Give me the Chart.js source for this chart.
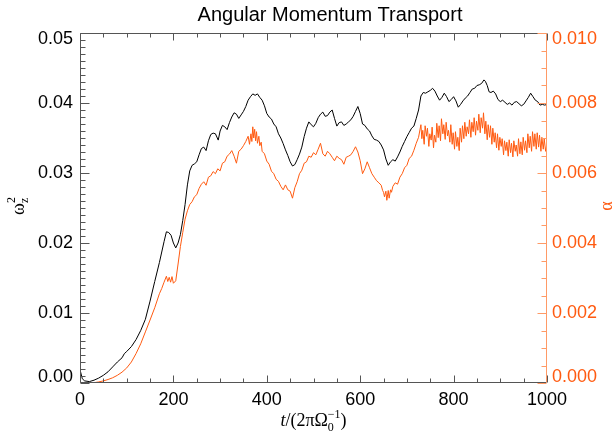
<!DOCTYPE html>
<html>
<head>
<meta charset="utf-8">
<script src="https://cdn.jsdelivr.net/npm/chart.js"></script>
<style>
  html, body { margin: 0; padding: 0; background: #fff; }
  #wrap { width: 613px; height: 437px; }
</style>
</head>
<body>
<div id="wrap"><canvas id="amt"></canvas></div>
<script>
// values
const titleText = "Angular Momentum Transport";

const xTicks = [0, 200, 400, 600, 800, 1000];
const leftTicks = [0, 0.01, 0.02, 0.03, 0.04, 0.05];
const rightTicks = [0, 0.002, 0.004, 0.006, 0.008, 0.010];

const tBlack = [0, 5, 10, 20, 30, 40, 50, 60, 70, 80, 90, 95, 100, 110, 120, 130, 140, 150, 160, 170,
  180, 185, 190, 195, 200, 205, 210, 215, 220, 225, 230, 235, 240, 245, 250, 255, 260, 265, 270, 275,
  280, 285, 290, 296, 300, 305, 310, 315, 320, 325, 330, 335, 340, 345, 350, 355, 360, 365, 370, 375,
  380, 385, 390, 395, 400, 405, 410, 415, 420, 425, 430, 435, 440, 445, 450, 455, 460, 465, 470, 475,
  480, 485, 490, 495, 500, 505, 510, 515, 520, 525, 530, 535, 540, 545, 550, 555, 560, 565, 570, 575,
  580, 585, 590, 595, 600, 605, 610, 615, 620, 625, 630, 635, 640, 645, 650, 655, 660, 665, 670, 675,
  680, 685, 690, 695, 700, 705, 710, 715, 720, 725, 730, 735, 740, 745, 750, 755, 760, 765, 770, 775,
  780, 785, 790, 795, 800, 805, 810, 815, 820, 825, 830, 835, 840, 845, 850, 855, 860, 865, 868, 872,
  876, 880, 885, 890, 895, 900, 905, 910, 915, 920, 925, 930, 935, 940, 945, 950, 955, 960, 965, 970,
  975, 980, 985, 990, 995, 1000];
const omega = [0.0019, 0.0006, 0.0003, 0.0002, 0.0004, 0.0007, 0.0011, 0.0016, 0.0023, 0.0030, 0.0036, 0.0042, 0.0045, 0.0052, 0.0062, 0.0075, 0.0091, 0.0117, 0.0145, 0.0172,
  0.0202, 0.0216, 0.0215, 0.0211, 0.0200, 0.0193, 0.0200, 0.0212, 0.0232, 0.0255, 0.0283, 0.0303, 0.0311, 0.0313, 0.0316, 0.0326, 0.0335, 0.0337, 0.0332, 0.0346,
  0.0355, 0.0357, 0.0356, 0.0347, 0.0360, 0.0368, 0.0366, 0.0362, 0.0372, 0.0380, 0.0386, 0.0384, 0.0378, 0.0383, 0.0388, 0.0395, 0.0404, 0.0409, 0.0413, 0.0411,
  0.0413, 0.0408, 0.0404, 0.0396, 0.0385, 0.0380, 0.0377, 0.0370, 0.0366, 0.0356, 0.0350, 0.0342, 0.0333, 0.0325, 0.0316, 0.0310, 0.0312, 0.0319, 0.0327, 0.0337,
  0.0352, 0.0364, 0.0373, 0.0369, 0.0366, 0.0371, 0.0379, 0.0384, 0.0387, 0.0381, 0.0382, 0.0387, 0.0390, 0.0378, 0.0367, 0.0372, 0.0373, 0.0368, 0.0370, 0.0373,
  0.0376, 0.0381, 0.0388, 0.0395, 0.0385, 0.0370, 0.0368, 0.0363, 0.0360, 0.0353, 0.0348, 0.0347, 0.0345, 0.0340, 0.0333, 0.0320, 0.0311, 0.0316, 0.0319, 0.0317,
  0.0323, 0.0330, 0.0338, 0.0345, 0.0352, 0.0358, 0.0364, 0.0367, 0.0378, 0.0390, 0.0410, 0.0415, 0.0414, 0.0416, 0.0418, 0.0421, 0.0417, 0.0410, 0.0404, 0.0408,
  0.0414, 0.0409, 0.0402, 0.0405, 0.0409, 0.0403, 0.0394, 0.0398, 0.0403, 0.0407, 0.0410, 0.0415, 0.0420, 0.0421, 0.0425, 0.0426, 0.0428, 0.0433, 0.0431, 0.0425,
  0.0416, 0.0415, 0.0417, 0.0413, 0.0405, 0.0402, 0.0404, 0.0401, 0.0398, 0.0400, 0.0397, 0.0401, 0.0402, 0.0399, 0.0396, 0.0398, 0.0403, 0.0408, 0.0414, 0.0409,
  0.0404, 0.0402, 0.0397, 0.0398, 0.0397, 0.0398];

const tAlpha = [0, 10, 20, 30, 40, 50, 60, 70, 80, 90,
  100, 110, 120, 130, 140, 150, 160, 170, 175, 180,
  185, 188, 191, 194, 197, 200, 205, 210, 215, 220,
  225, 230, 235, 240, 245, 250, 255, 260, 265, 270,
  275, 280, 285, 290, 295, 300, 305, 310, 315, 320,
  325, 330, 335, 340, 345, 350, 355, 360, 363, 366,
  368, 370, 372, 374, 376, 378, 380, 383, 385, 388,
  390, 395, 400, 405, 410, 415, 420, 425, 430, 435,
  440, 445, 450, 455, 460, 465, 470, 475, 480, 485,
  490, 495, 500, 505, 510, 515, 520, 525, 530, 535,
  540, 545, 550, 555, 560, 565, 570, 575, 580, 585,
  590, 595, 600, 605, 610, 615, 620, 625, 630, 635,
  640, 645, 648, 650, 652, 655, 657, 660, 662, 665,
  667, 670, 675, 680, 685, 690, 695, 700, 705, 710,
  715, 720, 725, 730, 732, 734, 737, 739, 742, 744,
  747, 749, 752, 754, 757, 759, 762, 764, 767, 769,
  772, 774, 777, 779, 782, 784, 787, 789, 792, 794,
  797, 799, 802, 804, 807, 809, 812, 814, 817, 819,
  822, 824, 827, 829, 832, 834, 837, 839, 842, 844,
  847, 849, 852, 854, 857, 859, 862, 864, 867, 869,
  872, 874, 877, 879, 882, 884, 887, 889, 892, 894,
  897, 899, 902, 904, 907, 909, 912, 914, 917, 919,
  922, 924, 927, 929, 932, 934, 937, 939, 942, 944,
  947, 949, 952, 954, 957, 959, 962, 964, 967, 969,
  972, 974, 977, 979, 982, 984, 987, 989, 992, 994,
  997, 1000];
const alpha = [0.0000, 0.0000, 0.0000, 0.00001, 0.00003, 0.00006, 0.0001, 0.00015, 0.00022, 0.00031,
  0.00043, 0.0006, 0.00084, 0.00112, 0.00146, 0.0018, 0.00215, 0.00255, 0.0027, 0.00288,
  0.00305, 0.0029, 0.00302, 0.00288, 0.00304, 0.00285, 0.00292, 0.0034, 0.0039, 0.0043,
  0.00468, 0.00492, 0.0051, 0.00518, 0.00532, 0.00538, 0.00556, 0.00568, 0.00575, 0.00565,
  0.00588, 0.00592, 0.00604, 0.00598, 0.00612, 0.00606, 0.00628, 0.00632, 0.00648, 0.00654,
  0.00664, 0.00648, 0.00628, 0.00662, 0.00668, 0.00678, 0.0069, 0.00705, 0.00682, 0.00712,
  0.0069, 0.00732, 0.007, 0.00725, 0.00692, 0.00718, 0.00685, 0.00705, 0.00678, 0.00688,
  0.00662, 0.00655, 0.00634, 0.00625, 0.00605, 0.00598, 0.00582, 0.00576, 0.00562, 0.00552,
  0.00566, 0.00552, 0.00548, 0.00528, 0.00558, 0.00575, 0.00598, 0.00608, 0.00628, 0.00632,
  0.00648, 0.00645, 0.00658, 0.00652, 0.00668, 0.00685, 0.00655, 0.00648, 0.00662, 0.00655,
  0.00645, 0.00635, 0.00648, 0.00642, 0.00638, 0.00625, 0.00645, 0.00648, 0.00652, 0.00662,
  0.00675, 0.0066, 0.00635, 0.00598, 0.00612, 0.00632, 0.00615, 0.00598, 0.00588, 0.00578,
  0.00572, 0.00565, 0.0055, 0.00545, 0.00532, 0.00548, 0.00522, 0.0055, 0.00528, 0.00552,
  0.00545, 0.00562, 0.00572, 0.00568, 0.00588, 0.00598, 0.00615, 0.00622, 0.00642, 0.00648,
  0.00665, 0.00685, 0.00702, 0.00738, 0.00698, 0.00722, 0.00682, 0.00735, 0.00705, 0.00728,
  0.00676, 0.00712, 0.00694, 0.00731, 0.00672, 0.00708, 0.00688, 0.00742, 0.00701, 0.00735,
  0.00692, 0.00755, 0.00712, 0.00738, 0.00696, 0.00745, 0.00706, 0.00722, 0.00688, 0.00738,
  0.00682, 0.00715, 0.00668, 0.00718, 0.00676, 0.00702, 0.00664, 0.00728, 0.00688, 0.00735,
  0.00698, 0.00745, 0.00705, 0.00732, 0.00712, 0.00752, 0.00702, 0.00745, 0.00718, 0.00758,
  0.00708, 0.00748, 0.00722, 0.00768, 0.00715, 0.00758, 0.00728, 0.00772, 0.00712, 0.00748,
  0.00695, 0.00738, 0.00702, 0.00735, 0.00682, 0.00728, 0.00688, 0.00715, 0.00672, 0.00712,
  0.00665, 0.00702, 0.00676, 0.00698, 0.00652, 0.00692, 0.00664, 0.00688, 0.00648, 0.00695,
  0.00658, 0.00685, 0.00646, 0.00692, 0.00662, 0.0068, 0.00648, 0.00698, 0.00655, 0.00689,
  0.00652, 0.00702, 0.00665, 0.00692, 0.00658, 0.00712, 0.00672, 0.00705, 0.00662, 0.00718,
  0.00676, 0.00712, 0.00668, 0.00715, 0.00674, 0.00708, 0.00662, 0.00702, 0.00668, 0.00698,
  0.00662, 0.00684];

const ORANGE = "#ff5a10";
const ORANGE_AXIS = "#ff9a66";
const AXIS_GREY = "#555";
const SANS = "'Liberation Sans', Arial, sans-serif";
const SERIF = "'Liberation Serif', 'DejaVu Serif', serif";

// IDL-style box with inward ticks, y labels nudged inward at the ends,
// and titles with sub/superscripts
const idlAxes = {
  id: "idlAxes",
  afterDatasetsDraw(chart) {
    const { ctx, chartArea: a, scales } = chart;
    const L = Math.round(a.left) + 0.5, R = Math.round(a.right) - 0.5;
    const T = Math.round(a.top) + 0.5, B = Math.round(a.bottom) - 0.5;
    ctx.save();
    ctx.lineWidth = 1;

    // left, bottom, top in grey
    ctx.strokeStyle = AXIS_GREY;
    ctx.beginPath();
    ctx.moveTo(R, T); ctx.lineTo(L, T); ctx.lineTo(L, B); ctx.lineTo(R, B);
    ctx.stroke();

    ctx.beginPath();
    for (let v = 0; v <= 1000; v += 50) {
      const px = Math.round(scales.x.getPixelForValue(v)) + 0.5;
      const len = v % 200 === 0 ? 7 : 4;
      ctx.moveTo(px, B); ctx.lineTo(px, B - len);
      ctx.moveTo(px, T); ctx.lineTo(px, T + len);
    }
    for (let i = 0; i <= 50; i++) {
      const py = Math.round(scales.y.getPixelForValue(i * 0.001)) + 0.5;
      const len = i % 10 === 0 ? 9 : 5;
      ctx.moveTo(L, py); ctx.lineTo(L + len, py);
    }
    ctx.stroke();

    // right axis in orange
    ctx.strokeStyle = ORANGE_AXIS;
    ctx.beginPath();
    ctx.moveTo(R, T); ctx.lineTo(R, B);
    for (let i = 0; i <= 20; i++) {
      const py = Math.round(scales.y1.getPixelForValue(i * 0.0005)) + 0.5;
      const len = i % 4 === 0 ? 9 : 5;
      ctx.moveTo(R, py); ctx.lineTo(R - len, py);
    }
    ctx.stroke();

    // y tick labels
    ctx.font = "18px " + SANS;
    ctx.textBaseline = "middle";
    const nudge = (i, n) => (i === 0 ? -6 : (i === n - 1 ? 6 : 0));
    ctx.fillStyle = "#000";
    ctx.textAlign = "right";
    leftTicks.forEach((v, i) => {
      ctx.fillText(v.toFixed(2), a.left - 7, scales.y.getPixelForValue(v) + nudge(i, leftTicks.length));
    });
    ctx.fillStyle = ORANGE;
    ctx.textAlign = "left";
    rightTicks.forEach((v, i) => {
      ctx.fillText(v.toFixed(3), a.right + 5, scales.y1.getPixelForValue(v) + nudge(i, rightTicks.length));
    });

    // chart title
    ctx.fillStyle = "#000";
    ctx.font = "20px " + SANS;
    ctx.textAlign = "center";
    ctx.fillText(titleText, 330, 15);

    // x title: t/(2πΩ0^-1)
    const parts = [
      { s: "t", f: "italic 18px " + SERIF },
      { s: "/(2πΩ", f: "18px " + SERIF },
      { s: "0", f: "12px " + SERIF },
      { s: "−1", f: "12px " + SERIF },
      { s: ")", f: "18px " + SERIF }
    ];
    const widths = parts.map(p => { ctx.font = p.f; return ctx.measureText(p.s).width; });
    // sub and sup are stacked: advance only by the wider one
    const w = widths[0] + widths[1] + Math.max(widths[2], widths[3]) + widths[4];
    let x0 = (a.left + a.right) / 2 - w / 2;
    const yb = 426;
    ctx.textAlign = "left";
    ctx.textBaseline = "alphabetic";
    ctx.font = parts[0].f; ctx.fillText(parts[0].s, x0, yb); x0 += widths[0];
    ctx.font = parts[1].f; ctx.fillText(parts[1].s, x0, yb); x0 += widths[1];
    ctx.font = parts[2].f; ctx.fillText(parts[2].s, x0, yb + 5);
    ctx.font = parts[3].f; ctx.fillText(parts[3].s, x0, yb - 8);
    x0 += Math.max(widths[2], widths[3]);
    ctx.font = parts[4].f; ctx.fillText(parts[4].s, x0, yb);

    // left y title: omega_z^2 rotated
    ctx.save();
    ctx.translate(24, 206);
    ctx.rotate(-Math.PI / 2);
    ctx.font = "18px " + SERIF;
    const ww = ctx.measureText("ω").width;
    ctx.font = "12px " + SERIF;
    const ws = Math.max(ctx.measureText("z").width, ctx.measureText("2").width);
    const xs = -(ww + ws) / 2;
    ctx.font = "18px " + SERIF;
    ctx.fillText("ω", xs, 0);
    ctx.font = "12px " + SERIF;
    ctx.fillText("z", xs + ww, 4);
    ctx.fillText("2", xs + ww, -9);
    ctx.restore();

    // right y title: alpha
    ctx.save();
    ctx.translate(612, 206);
    ctx.rotate(-Math.PI / 2);
    ctx.fillStyle = ORANGE;
    ctx.font = "18px " + SERIF;
    ctx.textAlign = "center";
    ctx.fillText("α", 0, 0);
    ctx.restore();

    ctx.restore();
  }
};

new Chart(document.getElementById("amt"), {
  type: "line",
  data: {
    datasets: [
      {
        label: "omega_z^2",
        data: tBlack.map((t, i) => ({ x: t, y: omega[i] })),
        borderColor: "#000",
        borderWidth: 1,
        pointRadius: 0,
        tension: 0,
        yAxisID: "y"
      },
      {
        label: "alpha",
        data: tAlpha.map((t, i) => ({ x: t, y: alpha[i] })),
        borderColor: ORANGE,
        borderWidth: 1,
        pointRadius: 0,
        tension: 0,
        yAxisID: "y1"
      }
    ]
  },
  options: {
    responsive: true,
    maintainAspectRatio: false,
    animation: false,
    layout: { padding: { top: 33, left: 0, right: 0, bottom: 0 } },
    plugins: {
      legend: { display: false },
      tooltip: { enabled: false },
      title: { display: false }
    },
    scales: {
      x: {
        type: "linear",
        min: 0, max: 1000,
        grid: { display: false, drawTicks: false },
        border: { display: false },
        afterBuildTicks: s => { s.ticks = xTicks.map(v => ({ value: v })); },
        afterFit: s => { s.height = 54; },
        ticks: { font: { family: SANS, size: 18 }, color: "#000", padding: 6, maxRotation: 0, callback: v => String(v) }
      },
      y: {
        position: "left",
        min: 0, max: 0.05,
        grid: { display: false, drawTicks: false },
        border: { display: false },
        afterBuildTicks: s => { s.ticks = leftTicks.map(v => ({ value: v })); },
        afterFit: s => { s.width = 80; },
        ticks: { display: false }
      },
      y1: {
        position: "right",
        min: 0, max: 0.010,
        grid: { display: false, drawTicks: false },
        border: { display: false },
        afterBuildTicks: s => { s.ticks = rightTicks.map(v => ({ value: v })); },
        afterFit: s => { s.width = 66; },
        ticks: { display: false }
      }
    }
  },
  plugins: [idlAxes]
});
</script>
</body>
</html>
